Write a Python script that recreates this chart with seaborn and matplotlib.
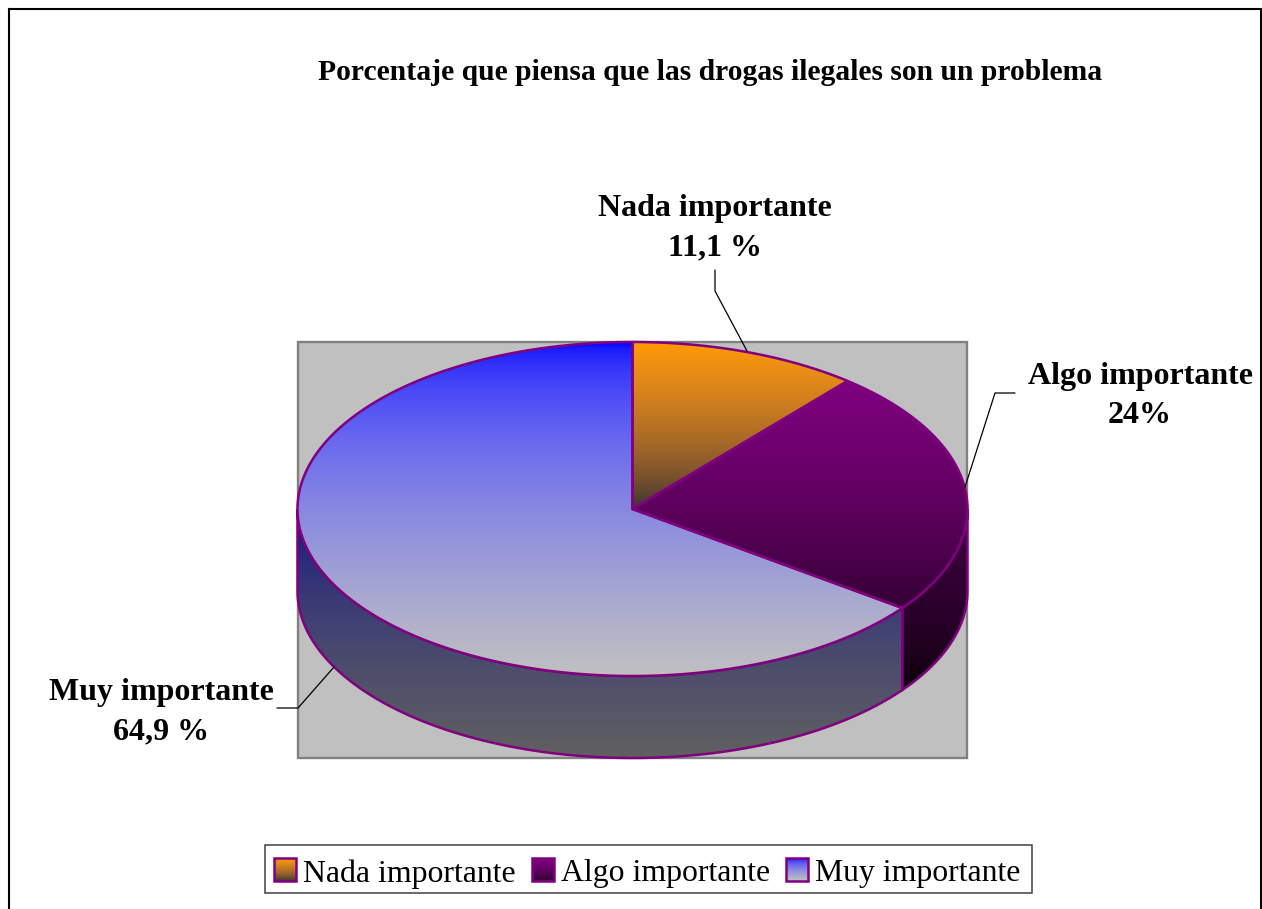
import numpy as np
import matplotlib
matplotlib.use('Agg')
import matplotlib.pyplot as plt
from matplotlib.colors import to_rgb
from matplotlib.patches import Polygon, Rectangle
import seaborn as sns

categories = ['Nada importante', 'Algo importante', 'Muy importante']
values = [11.1, 24, 64.9]
value_labels = ['11,1 %', '24%', '64,9 %']
title = 'Porcentaje que piensa que las drogas ilegales son un problema'

top_colors = [('#ff9900', '#333333'), ('#800080', '#330033'), ('#0000ff', '#c0c0c0')]
side_colors = [('#804d00', '#1a1a1a'), ('#400040', '#000000'), ('#000080', '#606060')]

W, H = 1262, 909
cx, cy, rx, ry, depth = 632.5, 509, 335, 167, 82
edge = '#800080'

sns.set_theme(style='white')
plt.rcParams['font.family'] = ['Liberation Serif', 'DejaVu Serif']

fig = plt.figure(figsize=(W / 100, H / 100), dpi=100)
ax = fig.add_axes([0, 0, 1, 1])
ax.set_xlim(0, W)
ax.set_ylim(H, 0)
ax.axis('off')


def rim(t):
    # t in degrees, clockwise from the top of the pie
    t = np.radians(t)
    return cx + rx * np.sin(t), cy - ry * np.cos(t)


def gradient(poly, colors, z):
    # vertical gradient clipped to a polygon, blended in squared rgb
    ax.add_patch(poly)
    pts = poly.get_xy()
    y0, y1 = pts[:, 1].min(), pts[:, 1].max()
    x0, x1 = pts[:, 0].min(), pts[:, 0].max()
    c0, c1 = np.array(to_rgb(colors[0])), np.array(to_rgb(colors[1]))
    s = np.linspace(0, 1, 64)[:, None]
    steps = np.sqrt((1 - s) * c0 ** 2 + s * c1 ** 2)
    cmap = sns.blend_palette([tuple(c) for c in steps], as_cmap=True)
    im = ax.imshow(np.linspace(0, 1, 256)[:, None], cmap=cmap, aspect='auto', zorder=z,
                   extent=(x0, x1, y1, y0), interpolation='bilinear')
    im.set_clip_path(poly)
    ax.set_xlim(0, W)
    ax.set_ylim(H, 0)


# outer frame and grey plot area
ax.plot([9, 9], [H, 9], color='black', lw=1.5, zorder=1, solid_capstyle='projecting')
ax.plot([9, 1260], [9, 9], color='black', lw=1.5, zorder=1, solid_capstyle='projecting')
ax.plot([1260.5, 1260.5], [9, H], color='black', lw=2.2, zorder=1)
ax.add_patch(Rectangle((298, 342), 669, 416, fc='#c0c0c0', ec='#808080', lw=1.7, zorder=1))

edges = np.concatenate([[0], np.cumsum(values)]) * 3.6

# side walls, only the front half of the rim shows
for i in range(len(values)):
    a, b = max(edges[i], 90), min(edges[i + 1], 270)
    if a >= b:
        continue
    t = np.linspace(a, b, 200)
    x, y = rim(t)
    pts = np.column_stack([np.r_[x, x[::-1]], np.r_[y, y[::-1] + depth]])
    gradient(Polygon(pts, closed=True, fc='none', ec='none', zorder=2), side_colors[i], 2)
    ax.add_patch(Polygon(pts, closed=True, fill=False, ec=edge, lw=1.8, zorder=3))

# top slices
for i in range(len(values)):
    t = np.linspace(edges[i], edges[i + 1], 300)
    x, y = rim(t)
    pts = np.column_stack([np.r_[cx, x], np.r_[cy, y]])
    gradient(Polygon(pts, closed=True, fc='none', ec='none', zorder=4), top_colors[i], 4)
    ax.add_patch(Polygon(pts, closed=True, fill=False, ec=edge, lw=1.8, joinstyle='round', zorder=5))

# leader lines
ax.plot([715, 715, 747], [270, 291, 351], color='black', lw=0.9, zorder=6)
ax.plot([1015, 995, 965], [393, 393, 487], color='black', lw=0.9, zorder=6)
ax.plot([277, 298, 334], [708, 708, 667], color='black', lw=0.9, zorder=6)

# labels
label_pos = [(715, 228), (1140, 396), (161, 712)]
for name, val, (lx, ly) in zip(categories, value_labels, label_pos):
    ax.text(lx, ly, name + '\n' + val, ha='center', va='center', fontsize=23,
            fontweight='bold', color='black', linespacing=1.45, zorder=7)

ax.text(710, 72, title, ha='center', va='center', fontsize=21.35, fontweight='bold', color='black')

# legend
ax.add_patch(Rectangle((265, 845), 767, 48, fc='white', ec='#404040', lw=1.1, zorder=6))
swatch_x = [274, 532, 786]
text_x = [303, 561, 815]
for sx, tx, name, cols in zip(swatch_x, text_x, categories, top_colors):
    sw = [[sx, 858], [sx + 22, 858], [sx + 22, 881], [sx, 881]]
    gradient(Polygon(sw, closed=True, fc='none', ec='none', zorder=7), cols, 7)
    ax.add_patch(Polygon(sw, closed=True, fill=False, ec=edge, lw=1.8, zorder=8))
    ax.text(tx, 874, name, ha='left', va='center', fontsize=22.9, color='black', zorder=8)

fig.savefig('out.png', dpi=100)
